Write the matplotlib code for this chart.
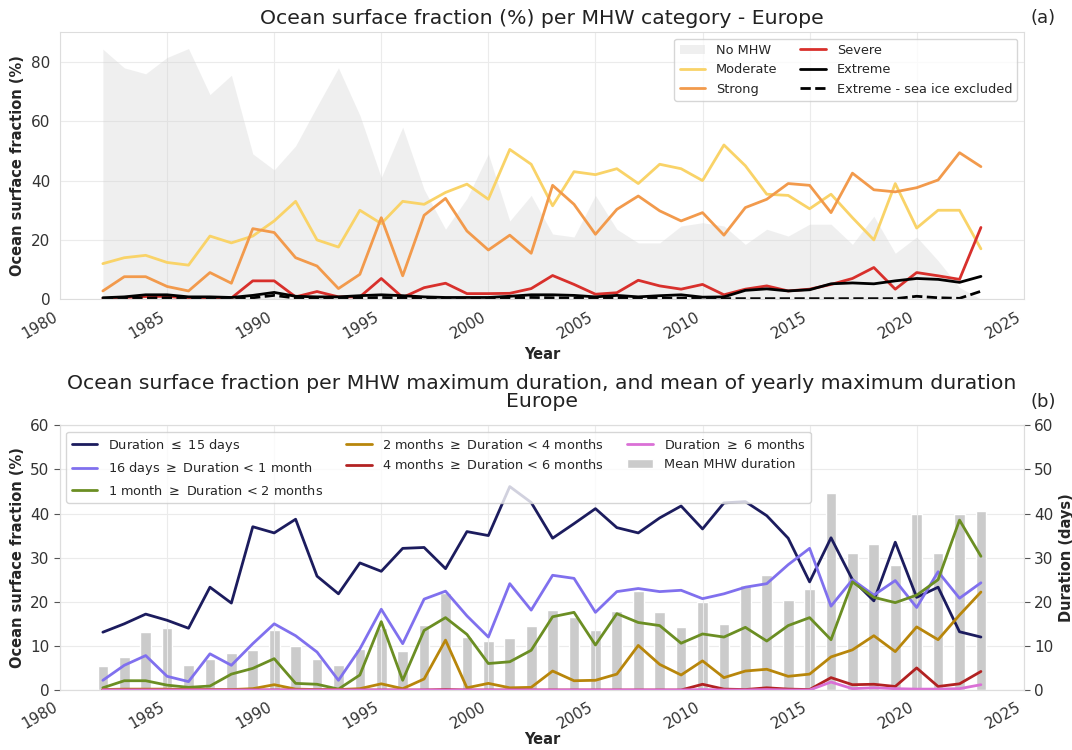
import numpy as np
import matplotlib
matplotlib.use('Agg')
import matplotlib.pyplot as plt
import seaborn as sns

sns.set_style('whitegrid')
plt.rcParams['font.family'] = ['DejaVu Sans']

# Années
years = [1982, 1983, 1984, 1985, 1986, 1987, 1988, 1989, 1990, 1991,
         1992, 1993, 1994, 1995, 1996, 1997, 1998, 1999, 2000, 2001,
         2002, 2003, 2004, 2005, 2006, 2007, 2008, 2009, 2010, 2011,
         2012, 2013, 2014, 2015, 2016, 2017, 2018, 2019, 2020, 2021,
         2022, 2023]

# (a) fraction de surface par catégorie (%)
no_mhw = [84.3, 78.0, 76.0, 81.5, 84.5, 69.0, 75.5, 49.0, 43.6, 51.7,
          65.0, 78.0, 62.0, 41.0, 58.0, 37.0, 23.6, 34.0, 49.0, 26.4,
          35.0, 22.0, 21.0, 35.0, 23.6, 19.0, 19.0, 24.7, 25.8, 24.7,
          18.5, 23.6, 21.3, 25.3, 25.3, 18.5, 28.0, 15.5, 21.0, 13.0,
          4.0, 0.0]
moderate = [12.0, 14.0, 14.8, 12.4, 11.5, 21.3, 19.0, 21.3, 26.4, 33.0,
            20.0, 17.6, 30.0, 25.5, 33.0, 32.0, 36.0, 38.8, 33.7, 50.5,
            45.5, 31.5, 43.0, 42.0, 44.0, 39.0, 45.5, 44.0, 40.0, 52.0,
            45.0, 35.4, 35.0, 30.5, 35.4, 27.5, 20.0, 39.0, 24.0, 30.0,
            30.0, 17.0]
strong = [2.8, 7.6, 7.6, 4.3, 2.8, 9.0, 5.4, 23.8, 22.5, 14.0,
          11.2, 3.6, 8.4, 27.5, 7.9, 28.3, 34.0, 23.0, 16.6, 21.6,
          15.5, 38.4, 32.0, 21.9, 30.3, 34.8, 29.8, 26.4, 29.2, 21.6,
          30.9, 33.7, 39.0, 38.4, 29.2, 42.5, 36.9, 36.2, 37.6, 40.2,
          49.4, 44.7]
severe = [0.2, 0.6, 0.9, 1.0, 0.3, 0.2, 0.4, 6.2, 6.2, 0.8,
          2.6, 0.8, 0.8, 7.0, 0.6, 3.9, 5.4, 1.9, 1.9, 2.0,
          3.6, 8.0, 5.0, 1.7, 2.2, 6.4, 4.5, 3.4, 5.0, 1.5,
          3.4, 4.5, 2.8, 3.4, 5.0, 7.0, 10.7, 3.4, 9.0, 7.9,
          6.7, 24.2]
extreme = [0.5, 0.8, 1.5, 1.5, 0.8, 0.8, 0.6, 1.3, 2.3, 1.0,
           0.8, 0.8, 1.2, 1.5, 1.2, 0.8, 0.6, 0.6, 0.6, 1.0,
           1.5, 1.5, 1.3, 0.8, 1.3, 0.8, 1.2, 1.5, 0.7, 0.8,
           3.0, 3.5, 2.8, 3.2, 5.2, 5.5, 5.2, 6.2, 7.0, 6.7,
           5.7, 7.7]
extreme_noice = [0.2, 0.3, 0.4, 0.5, 0.3, 0.3, 0.3, 0.5, 1.3, 0.4,
                 0.3, 0.3, 0.4, 0.6, 0.4, 0.3, 0.3, 0.3, 0.3, 0.4,
                 0.6, 0.5, 0.4, 0.3, 0.4, 0.3, 0.3, 0.4, 0.2, 0.2,
                 0.2, 0.2, 0.2, 0.2, 0.2, 0.2, 0.2, 0.2, 1.0, 0.5,
                 0.3, 2.7]

# (b) fraction de surface par durée maximale (%)
dur_15d = [13.1, 15.0, 17.2, 15.8, 14.0, 23.3, 19.7, 37.0, 35.6, 38.7,
           25.8, 21.8, 28.8, 26.9, 32.1, 32.3, 27.5, 35.9, 35.0, 46.1,
           42.5, 34.4, 37.7, 41.1, 36.8, 35.6, 39.0, 41.7, 36.5, 42.4,
           42.7, 39.5, 34.4, 24.5, 34.5, 25.0, 20.2, 33.5, 21.0, 23.3,
           13.2, 12.0]
dur_1m = [2.2, 5.6, 7.8, 3.1, 1.9, 8.2, 5.6, 10.5, 15.0, 12.3,
          8.6, 2.2, 9.3, 18.3, 10.5, 20.6, 22.4, 16.8, 12.0, 24.1,
          18.1, 26.0, 25.3, 17.6, 22.3, 23.0, 22.3, 22.6, 20.7, 21.8,
          23.3, 24.1, 28.4, 32.1, 19.0, 25.0, 21.5, 24.8, 18.7, 26.8,
          20.8, 24.3]
dur_2m = [0.5, 2.1, 2.1, 1.1, 0.6, 0.9, 3.6, 4.9, 7.1, 1.5,
          1.3, 0.2, 3.4, 15.5, 2.2, 13.5, 16.4, 12.6, 6.0, 6.4,
          9.0, 16.6, 17.6, 10.2, 17.3, 15.3, 14.6, 10.6, 12.7, 12.0,
          14.2, 11.1, 14.6, 16.4, 11.4, 24.5, 21.0, 19.8, 21.5, 25.0,
          38.5, 30.3]
dur_4m = [0.1, 0.2, 0.2, 0.2, 0.1, 0.1, 0.1, 0.3, 1.2, 0.2,
          0.1, 0.1, 0.3, 1.4, 0.3, 2.5, 11.3, 0.5, 1.5, 0.5,
          0.6, 4.3, 2.1, 2.2, 3.6, 10.1, 5.8, 3.4, 6.6, 2.8,
          4.3, 4.7, 3.1, 3.6, 7.5, 9.1, 12.3, 8.7, 14.3, 11.4,
          17.0, 22.2]
dur_6m = [0.0, 0.0, 0.0, 0.0, 0.0, 0.0, 0.0, 0.0, 0.0, 0.0,
          0.0, 0.0, 0.0, 0.0, 0.0, 0.0, 0.1, 0.0, 0.0, 0.0,
          0.0, 0.0, 0.0, 0.0, 0.0, 0.0, 0.0, 0.0, 1.3, 0.2,
          0.1, 0.5, 0.2, 0.1, 2.8, 1.2, 1.3, 0.8, 5.0, 0.8,
          1.4, 4.2]
dur_more = [0.0, 0.0, 0.0, 0.0, 0.0, 0.0, 0.0, 0.0, 0.0, 0.0,
            0.0, 0.0, 0.0, 0.0, 0.0, 0.0, 0.0, 0.0, 0.0, 0.0,
            0.0, 0.0, 0.0, 0.0, 0.0, 0.0, 0.0, 0.0, 0.1, 0.0,
            0.0, 0.1, 0.0, 0.0, 1.8, 0.3, 0.5, 0.3, 0.2, 0.2,
            0.3, 1.2]
# durée moyenne (jours)
mean_dur = [5.4, 7.5, 13.1, 14.0, 5.6, 7.0, 8.4, 9.1, 13.6, 9.9,
            7.1, 5.6, 9.3, 14.0, 8.8, 14.8, 22.0, 12.0, 11.0, 11.7,
            14.6, 18.1, 16.5, 13.5, 18.0, 22.4, 17.6, 14.3, 20.0, 15.0,
            23.9, 26.0, 20.3, 22.8, 44.7, 31.0, 33.0, 28.4, 39.8, 31.0,
            40.0, 40.5]

fig = plt.figure(figsize=(10.72, 7.5), dpi=100)

# ---- (a) ----
ax1 = fig.add_axes([0.056, 0.601, 0.899, 0.356])
ax1.fill_between(years, no_mhw, color='lightgrey', alpha=0.35, lw=0, label='No MHW')
ax1.plot(years, moderate, color='#f9d368', lw=2, label='Moderate')
ax1.plot(years, strong, color='#f29a4c', lw=2, label='Strong')
ax1.plot(years, severe, color='#d8302c', lw=2, label='Severe')
ax1.plot(years, extreme, color='black', lw=2, label='Extreme')
ax1.plot(years, extreme_noice, color='black', lw=2, ls='--', label='Extreme - sea ice excluded')
ax1.set_xlim(1980, 2025)
ax1.set_ylim(0, 90)
ax1.set_xticks(range(1980, 2026, 5))
ax1.set_yticks([0, 20, 40, 60, 80])
ax1.tick_params(axis='both', labelsize=11, colors='#333333')
plt.setp(ax1.get_xticklabels(), rotation=30, ha='right')
ax1.grid(color='#ebebeb', lw=0.8)
for s in ax1.spines.values():
    s.set_color('#dddddd')
ax1.set_title('Ocean surface fraction (%) per MHW category - Europe', fontsize=14.7, pad=6, color='#222222')
ax1.set_xlabel('Year', fontweight='bold', fontsize=10.5)
ax1.set_ylabel('Ocean surface fraction (%)', fontweight='bold', fontsize=10.5)
ax1.legend(loc='upper right', ncol=2, fontsize=9.3, frameon=True, columnspacing=1.8)
fig.text(1043 / 1072, 1 - 18 / 750, '(a)', ha='center', va='center', fontsize=13)

# ---- (b) ----
ax2 = fig.add_axes([0.056, 0.08, 0.899, 0.353])
ax2r = ax2.twinx()
bars = ax2r.bar(years, mean_dur, width=0.5, color='#cbcbcb', label='Mean MHW duration', zorder=2)
ax2.plot(years, dur_15d, color='#1c1c5e', lw=2, label='Duration $\\leq$ 15 days')
ax2.plot(years, dur_1m, color='#8070ee', lw=2, label='16 days $\\geq$ Duration < 1 month')
ax2.plot(years, dur_2m, color='#6b8e23', lw=2, label='1 month $\\geq$ Duration < 2 months')
ax2.plot(years, dur_4m, color='#b8860b', lw=2, label='2 months $\\geq$ Duration < 4 months')
ax2.plot(years, dur_6m, color='#b22222', lw=2, label='4 months $\\geq$ Duration < 6 months')
ax2.plot(years, dur_more, color='#da70d6', lw=2, label='Duration $\\geq$ 6 months')
ax2.set_zorder(ax2r.get_zorder() + 1)
ax2.patch.set_visible(False)
ax2.set_xlim(1980, 2025)
ax2.set_ylim(0, 60)
ax2r.set_ylim(0, 60)
ax2.set_xticks(range(1980, 2026, 5))
ax2.set_yticks(range(0, 61, 10))
ax2r.set_yticks(range(0, 61, 10))
ax2.grid(axis='y', visible=False)
ax2.grid(axis='x', color='#ebebeb', lw=0.8)
ax2r.grid(axis='y', color='#ebebeb', lw=0.8)
ax2r.set_axisbelow(True)
ax2.tick_params(axis='both', labelsize=11, colors='#333333')
ax2.tick_params(axis='y', left=True, length=4, width=0.8, color='#555555')
ax2r.tick_params(axis='y', right=True, length=4, width=0.8, color='#555555', labelsize=11, labelcolor='#333333')
plt.setp(ax2.get_xticklabels(), rotation=30, ha='right')
for a in (ax2, ax2r):
    for s in a.spines.values():
        s.set_color('#dddddd')
ax2.set_title('Ocean surface fraction per MHW maximum duration, and mean of yearly maximum duration\nEurope',
              fontsize=14.7, pad=13, color='#222222', linespacing=0.95)
ax2.set_xlabel('Year', fontweight='bold', fontsize=10.5, labelpad=0)
ax2.set_ylabel('Ocean surface fraction (%)', fontweight='bold', fontsize=10.5)
ax2r.set_ylabel('Duration (days)', fontweight='bold', fontsize=10.5)
h, l = ax2.get_legend_handles_labels()
ax2.legend(h + [bars], l + ['Mean MHW duration'], loc='upper left', ncol=3, fontsize=9.3,
           frameon=True, columnspacing=1.8)
fig.text(1043 / 1072, 1 - 402 / 750, '(b)', ha='center', va='center', fontsize=13)

fig.savefig('out.png', dpi=100)
